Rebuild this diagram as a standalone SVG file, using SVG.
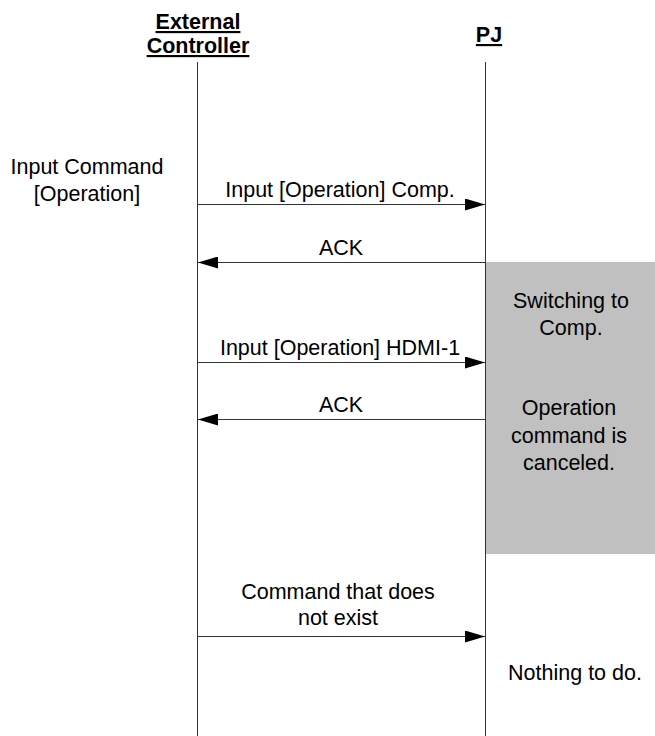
<svg xmlns="http://www.w3.org/2000/svg" width="655" height="736" viewBox="0 0 655 736">
<style>
text{font-family:"Liberation Sans",Arial,sans-serif;font-size:21.5px;fill:#000;text-anchor:middle}
.h{font-weight:bold;text-decoration:underline}
.life{stroke:#333;stroke-width:1;fill:none}
.msg{stroke:#333;stroke-width:1;fill:none}
</style>
<defs>
<marker id="ah" markerWidth="20" markerHeight="12" refX="20" refY="6" orient="auto" markerUnits="userSpaceOnUse">
<path d="M0,0 L20,6 L0,12 Z" fill="#000"/>
</marker>
</defs>
<rect width="655" height="736" fill="#fff"/>
<g id="activation">
<rect x="486" y="262" width="169" height="292" fill="#c0c0c0"/>
</g>
<g id="ext">
<text class="h" x="198" y="29">External</text>
<text class="h" x="198" y="53">Controller</text>
<line class="life" x1="197.5" y1="62" x2="197.5" y2="736"/>
</g>
<g id="pj">
<text class="h" x="489" y="42">PJ</text>
<line class="life" x1="485.5" y1="62" x2="485.5" y2="736"/>
</g>
<g id="notes">
<text x="87" y="174">Input Command</text>
<text x="87" y="201">[Operation]</text>
<text x="571" y="308">Switching to</text>
<text x="571" y="335">Comp.</text>
<text x="569" y="415">Operation</text>
<text x="569" y="443">command is</text>
<text x="569" y="470">canceled.</text>
<text x="575" y="680">Nothing to do.</text>
</g>
<g id="connectors">
<line class="msg" x1="197.5" y1="204.5" x2="485" y2="204.5" marker-end="url(#ah)"/>
<text x="340" y="197">Input [Operation] Comp.</text>
<line class="msg" x1="485.5" y1="262.5" x2="198" y2="262.5" marker-end="url(#ah)"/>
<text x="341" y="255">ACK</text>
<line class="msg" x1="197.5" y1="362.5" x2="485" y2="362.5" marker-end="url(#ah)"/>
<text x="340" y="355">Input [Operation] HDMI-1</text>
<line class="msg" x1="485.5" y1="419.5" x2="198" y2="419.5" marker-end="url(#ah)"/>
<text x="341" y="412">ACK</text>
<line class="msg" x1="197.5" y1="636.5" x2="485" y2="636.5" marker-end="url(#ah)"/>
<text x="338" y="599">Command that does</text>
<text x="338" y="625">not exist</text>
</g>
</svg>
